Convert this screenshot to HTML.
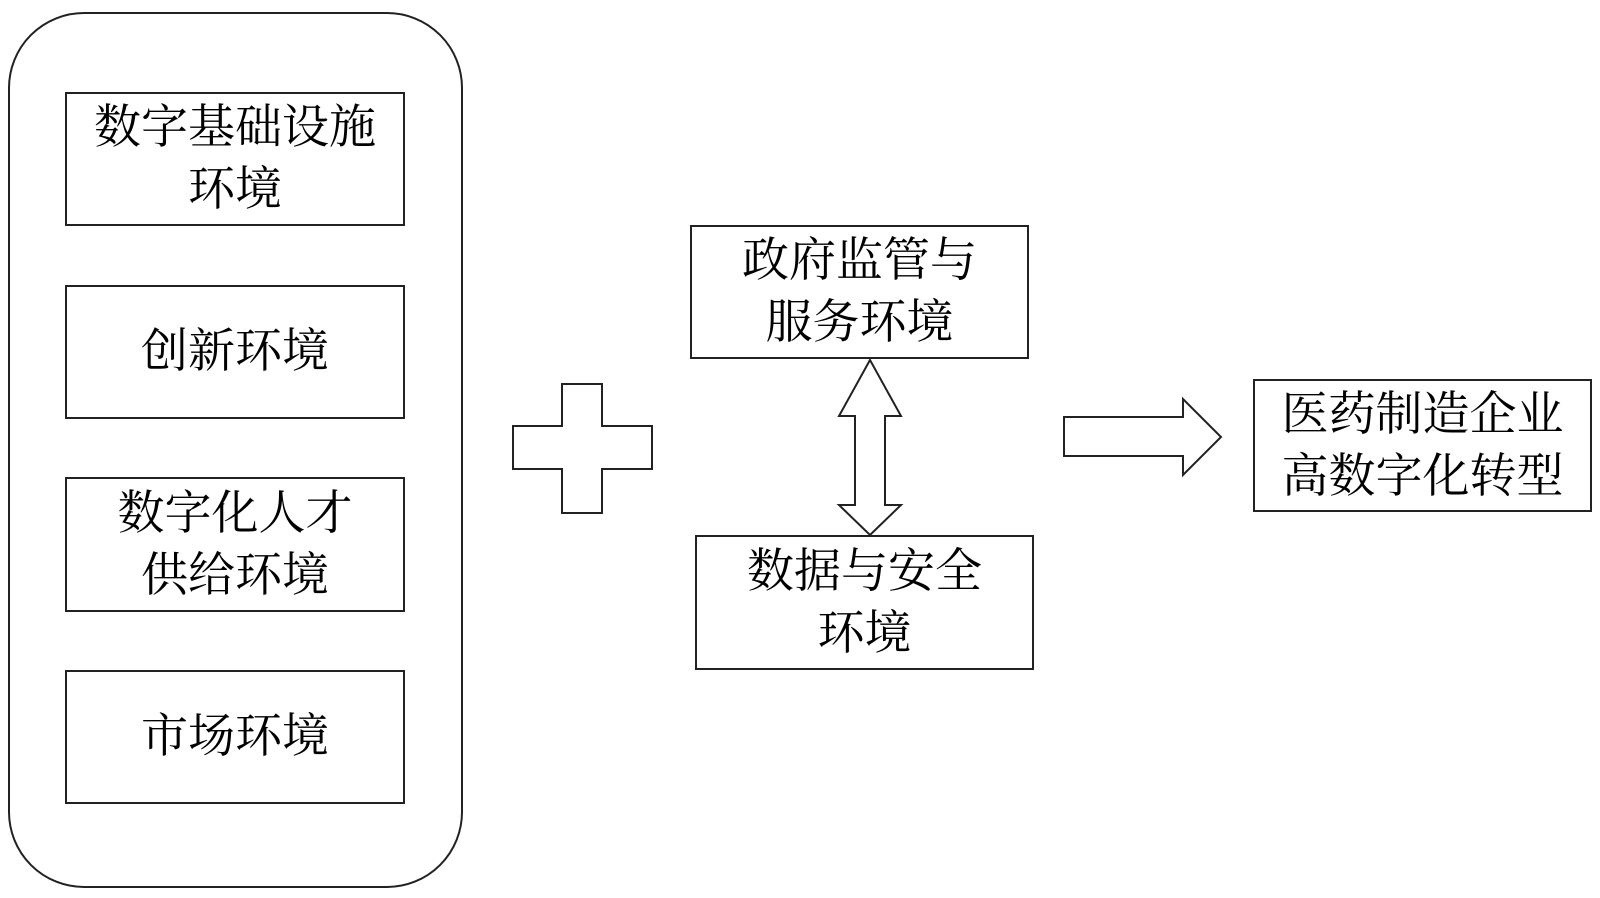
<!DOCTYPE html>
<html><head><meta charset="utf-8"><style>
html,body{margin:0;padding:0;background:#fff;}
body{width:1600px;height:898px;position:relative;overflow:hidden;font-family:"Liberation Serif","Noto Serif CJK SC",serif;color:#000;}
.b{position:absolute;border:2px solid #222;box-sizing:border-box;display:flex;align-items:center;justify-content:center;text-align:center;font-size:47px;line-height:62px;}
</style></head><body>
<div style="position:absolute;left:8px;top:12px;width:455px;height:876px;border:2px solid #222;border-radius:76px;box-sizing:border-box;"></div>
<div class="b" style="left:65px;top:92px;width:340px;height:134px;">数字基础设施<br>环境</div>
<div class="b" style="left:65px;top:285px;width:340px;height:134px;">创新环境</div>
<div class="b" style="left:65px;top:477px;width:340px;height:135px;">数字化人才<br>供给环境</div>
<div class="b" style="left:65px;top:670px;width:340px;height:134px;">市场环境</div>
<div class="b" style="left:690px;top:225px;width:339px;height:134px;">政府监管与<br>服务环境</div>
<div class="b" style="left:695px;top:535px;width:339px;height:135px;">数据与安全<br>环境</div>
<div class="b" style="left:1253px;top:379px;width:339px;height:133px;">医药制造企业<br>高数字化转型</div>
<svg width="1600" height="898" style="position:absolute;left:0;top:0" fill="#fff" stroke="#222" stroke-width="2">
<polygon points="562,384 602,384 602,426 652,426 652,469 602,469 602,513 562,513 562,469 513,469 513,426 562,426"/>
<polygon points="870,360 901,416 885,416 885,505 901,505 870,535 839,505 855,505 855,416 839,416"/>
<polygon points="1064,417 1183,417 1183,399 1221,437 1183,475 1183,456 1064,456"/>
</svg>
</body></html>
